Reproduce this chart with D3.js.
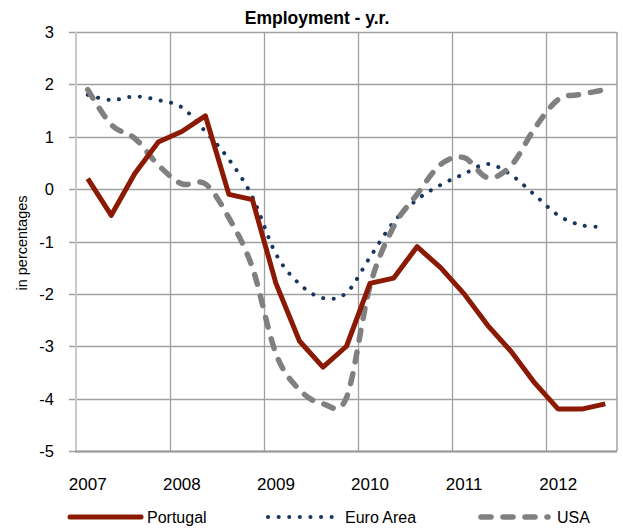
<!DOCTYPE html>
<html>
<head>
<meta charset="utf-8">
<script src="https://cdn.jsdelivr.net/npm/d3@7"></script>
<style>
  body { margin: 0; background: #fff; }
  svg { font-family: "Liberation Sans", Arial, sans-serif; }
</style>
</head>
<body>
<div id="chart"></div>
<script>
const quarters = [
    "2007Q1", "2007Q2", "2007Q3", "2007Q4",
    "2008Q1", "2008Q2", "2008Q3", "2008Q4",
    "2009Q1", "2009Q2", "2009Q3", "2009Q4",
    "2010Q1", "2010Q2", "2010Q3", "2010Q4",
    "2011Q1", "2011Q2", "2011Q3", "2011Q4",
    "2012Q1", "2012Q2", "2012Q3"
];
const yearLabels = ["2007", "2008", "2009", "2010", "2011", "2012"];
const yTicks = [3, 2, 1, 0, -1, -2, -3, -4, -5];

const portugal = [0.2, -0.5, 0.3, 0.9, 1.1, 1.4, -0.1, -0.2, -1.8, -2.9, -3.4, -3.0,
    -1.8, -1.7, -1.1, -1.5, -2.0, -2.6, -3.1, -3.7, -4.2, -4.2, -4.1];
const euroArea = [1.8, 1.7, 1.77, 1.7, 1.56, 1.1, 0.57, -0.15, -1.24, -1.81, -2.08, -1.98,
    -1.3, -0.63, -0.2, 0.08, 0.29, 0.48, 0.27, -0.11, -0.5, -0.69, -0.72];
const usa = [1.9, 1.23, 0.97, 0.46, 0.1, 0.1, -0.55, -1.5, -3.14, -3.83, -4.1, -3.98,
    -1.85, -0.72, -0.1, 0.47, 0.6, 0.22, 0.45, 1.16, 1.71, 1.81, 1.9];

const width = 623, height = 529;
const margin = {top: 32, right: 6, bottom: 78, left: 76};

const svg = d3.select("#chart")
    .append("svg")
    .attr("width", width)
    .attr("height", height);

const x = d3.scaleBand()
    .domain(quarters)
    .range([margin.left, width - margin.right]);

const y = d3.scaleLinear()
    .domain([-5, 3])
    .range([height - margin.bottom, margin.top]);

const cx = q => x(q) + x.bandwidth() / 2;

// vertical gridlines at the start of each year
const yearStarts = quarters.filter(q => q.endsWith("Q1"));
svg.append("g")
    .selectAll("line")
    .data(yearStarts.slice(1))
    .enter().append("line")
    .attr("x1", d => Math.round(x(d)) + 0.5)
    .attr("x2", d => Math.round(x(d)) + 0.5)
    .attr("y1", margin.top)
    .attr("y2", height - margin.bottom)
    .attr("stroke", "#a0a0a0")
    .attr("stroke-width", 1.3);

// horizontal gridlines + ticks
svg.append("g")
    .selectAll("line")
    .data(yTicks)
    .enter().append("line")
    .attr("x1", margin.left - 7)
    .attr("x2", width - margin.right)
    .attr("y1", d => Math.round(y(d)) + 0.5)
    .attr("y2", d => Math.round(y(d)) + 0.5)
    .attr("stroke", "#a0a0a0")
    .attr("stroke-width", 1.3);

// plot frame
svg.append("line")
    .attr("x1", width - margin.right).attr("x2", width - margin.right)
    .attr("y1", margin.top).attr("y2", height - margin.bottom)
    .attr("stroke", "#a0a0a0").attr("stroke-width", 1.5);
svg.append("line")
    .attr("x1", margin.left).attr("x2", margin.left)
    .attr("y1", margin.top).attr("y2", height - margin.bottom + 1)
    .attr("stroke", "#c8c8c8").attr("stroke-width", 2);
svg.append("line")
    .attr("x1", margin.left - 1).attr("x2", width - margin.right)
    .attr("y1", height - margin.bottom + 0.5).attr("y2", height - margin.bottom + 0.5)
    .attr("stroke", "#999").attr("stroke-width", 2);

// y tick labels
svg.append("g")
    .selectAll("text")
    .data(yTicks)
    .enter().append("text")
    .attr("x", 54)
    .attr("y", d => y(d) + 6)
    .attr("text-anchor", "end")
    .attr("font-size", 16.5)
    .attr("fill", "#000")
    .text(d => d);

// x year labels, centred on the first quarter of each year
svg.append("g")
    .selectAll("text")
    .data(yearStarts)
    .enter().append("text")
    .attr("x", d => cx(d))
    .attr("y", 490)
    .attr("text-anchor", "middle")
    .attr("font-size", 17)
    .attr("fill", "#000")
    .text((d, i) => yearLabels[i]);

svg.append("text")
    .attr("transform", "translate(27,243) rotate(-90)")
    .attr("text-anchor", "middle")
    .attr("font-size", 14.5)
    .text("in percentages");

svg.append("text")
    .attr("x", 317)
    .attr("y", 24)
    .attr("text-anchor", "middle")
    .attr("font-size", 17.5)
    .attr("font-weight", "bold")
    .text("Employment - y.r.");

const series = [
    {name: "Portugal", values: portugal, color: "#8b1a04", width: 5, dash: null, cap: "butt", curve: d3.curveLinear},
    {name: "Euro Area", values: euroArea, color: "#17375e", width: 4, dash: "0.1,10.5", cap: "round", curve: d3.curveCardinal.tension(0)},
    {name: "USA", values: usa, color: "#808080", width: 5.5, dash: "10,12", cap: "round", curve: d3.curveCardinal.tension(0)}
];

const drawOrder = [series[1], series[2], series[0]];

drawOrder.forEach(s => {
    const line = d3.line()
        .x((d, i) => cx(quarters[i]))
        .y(d => y(d))
        .curve(s.curve);
    svg.append("path")
        .datum(s.values)
        .attr("d", line)
        .attr("fill", "none")
        .attr("stroke", s.color)
        .attr("stroke-width", s.width)
        .attr("stroke-linecap", s.cap)
        .attr("stroke-linejoin", "round")
        .attr("stroke-dasharray", s.dash);
});

// legend
const legendX = [[70, 141, 147], [268, 336, 345], [481, 548, 557]];
const legend = svg.append("g");
series.forEach((s, i) => {
    const [x0, x1, tx] = legendX[i];
    legend.append("line")
        .attr("x1", x0).attr("x2", x1)
        .attr("y1", 517).attr("y2", 517)
        .attr("stroke", s.color)
        .attr("stroke-width", s.width)
        .attr("stroke-linecap", "round")
        .attr("stroke-dasharray", s.dash);
    legend.append("text")
        .attr("x", tx)
        .attr("y", 523)
        .attr("font-size", 16)
        .text(s.name);
});
</script>
</body>
</html>
